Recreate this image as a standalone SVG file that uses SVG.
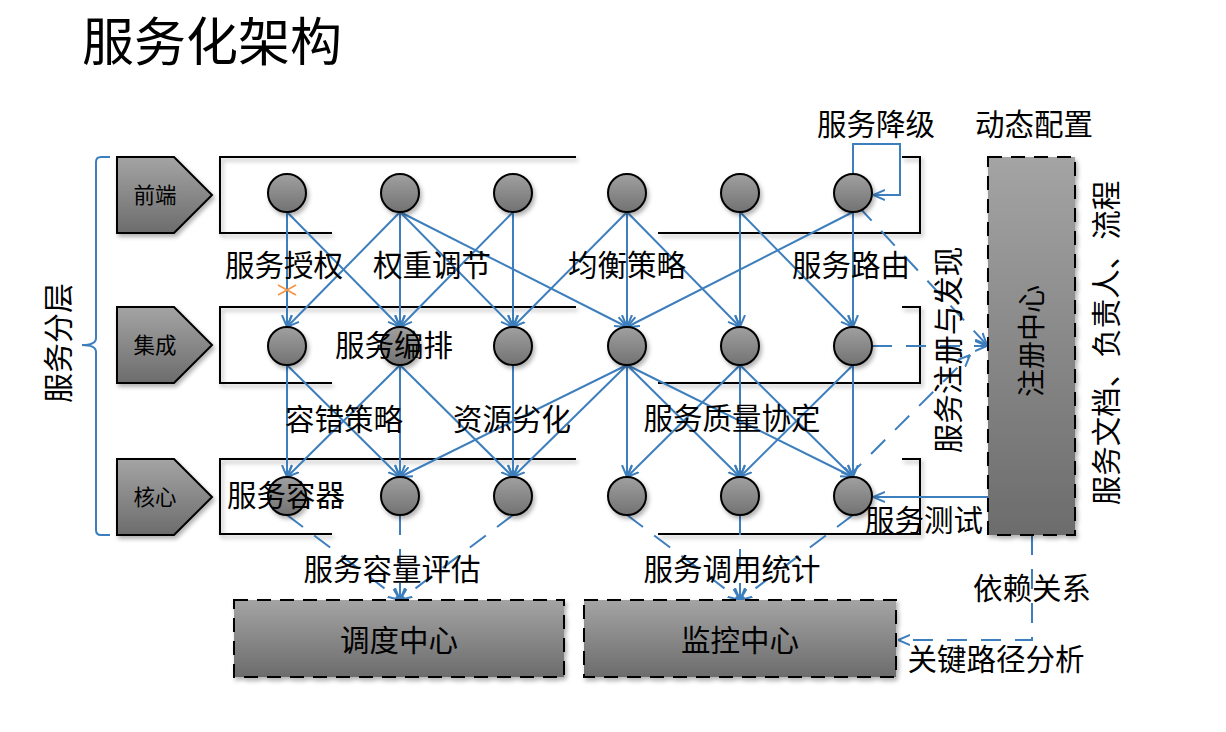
<svg xmlns="http://www.w3.org/2000/svg" width="1226" height="732" viewBox="0 0 1226 732">
<defs>
<linearGradient id="g" x1="0" y1="0" x2="0" y2="1"><stop offset="0" stop-color="#a4a4a4"/><stop offset="1" stop-color="#6c6c6c"/></linearGradient>
<linearGradient id="gc" x1="0" y1="0" x2="0" y2="1"><stop offset="0" stop-color="#a0a0a0"/><stop offset="1" stop-color="#727272"/></linearGradient>
<filter id="sh" x="-20%" y="-20%" width="150%" height="150%"><feDropShadow dx="2" dy="3" stdDeviation="2" flood-color="#000" flood-opacity="0.3"/></filter>
<marker id="ar" viewBox="0 0 12 12" refX="12" refY="6" markerWidth="12" markerHeight="12" markerUnits="userSpaceOnUse" orient="auto"><path d="M0,1 L12,6 L0,11" fill="none" stroke="#3d7ebd" stroke-width="2"/></marker>
<style>
text{font-family:"Noto Sans CJK SC","Noto Sans",sans-serif;fill:#000;text-anchor:middle}
.t28{font-size:29.5px}
.t20{font-size:21.5px}
.fr{fill:none;stroke:#000;stroke-width:2;filter:url(#sh)}
.c{fill:url(#gc);stroke:#000;stroke-width:2;filter:url(#sh)}
.p{fill:url(#g);stroke:#000;stroke-width:2;filter:url(#sh)}
.bx{fill:url(#g);stroke:#000;stroke-width:2;stroke-dasharray:14 9;filter:url(#sh)}
.e{fill:none;stroke:#3d7ebd;stroke-width:2;marker-end:url(#ar)}
.d{fill:none;stroke:#3d7ebd;stroke-width:2;stroke-dasharray:20 14;marker-end:url(#ar)}
</style>
</defs>
<rect width="1226" height="732" fill="#fff"/>

<text x="212" y="61" style="font-size:52px">服务化架构</text>

<g id="bracket">
<path d="M110,157 H101 Q96,157 96,162 V338 Q96,345 82,345 Q96,345 96,352 V530 Q96,535 101,535 H110" fill="none" stroke="#3d7ebd" stroke-width="2"/>
<text class="t28" style="font-size:30px" transform="rotate(-90 58 343)" x="58" y="354.4">服务分层</text>
</g>

<g id="layer-front"><polygon class="p" points="117,157 174,157 212,195 174,233 117,233"/><text class="t20" x="155" y="203.2">前端</text></g>
<g id="layer-integration"><polygon class="p" points="117,307 174,307 212,345 174,383 117,383"/><text class="t20" x="155" y="353.2">集成</text></g>
<g id="layer-core"><polygon class="p" points="117,459 174,459 212,497 174,535 117,535"/><text class="t20" x="155" y="505.2">核心</text></g>

<g id="frames">
<polyline class="fr" points="576,157 220,157 220,233 332,233"/>
<polyline class="fr" points="902,157 920,157 920,233 658,233"/>
<polyline class="fr" points="576,307 220,307 220,383 332,383"/>
<polyline class="fr" points="902,307 920,307 920,383 658,383"/>
<polyline class="fr" points="576,459 220,459 220,534 332,534"/>
<polyline class="fr" points="902,459 920,459 920,534 658,534"/>
</g>

<g id="connectors">
<line class="e" x1="287" y1="212" x2="287" y2="327"/>
<line class="e" x1="287" y1="212" x2="400" y2="327"/>
<line class="e" x1="400" y1="212" x2="287" y2="327"/>
<line class="e" x1="400" y1="212" x2="400" y2="327"/>
<line class="e" x1="400" y1="212" x2="513" y2="327"/>
<line class="e" x1="400" y1="212" x2="627" y2="327"/>
<line class="e" x1="513" y1="212" x2="400" y2="327"/>
<line class="e" x1="513" y1="212" x2="513" y2="327"/>
<line class="e" x1="627" y1="212" x2="513" y2="327"/>
<line class="e" x1="627" y1="212" x2="627" y2="327"/>
<line class="e" x1="627" y1="212" x2="740" y2="327"/>
<line class="e" x1="740" y1="212" x2="740" y2="327"/>
<line class="e" x1="740" y1="212" x2="853" y2="327"/>
<line class="e" x1="853" y1="212" x2="627" y2="327"/>
<line class="e" x1="853" y1="212" x2="853" y2="327"/>
<line class="e" x1="287" y1="365" x2="287" y2="477"/>
<line class="e" x1="287" y1="365" x2="400" y2="477"/>
<line class="e" x1="400" y1="365" x2="287" y2="477"/>
<line class="e" x1="400" y1="365" x2="400" y2="477"/>
<line class="e" x1="400" y1="365" x2="513" y2="477"/>
<line class="e" x1="513" y1="365" x2="513" y2="477"/>
<line class="e" x1="627" y1="365" x2="400" y2="477"/>
<line class="e" x1="627" y1="365" x2="513" y2="477"/>
<line class="e" x1="627" y1="365" x2="627" y2="477"/>
<line class="e" x1="627" y1="365" x2="740" y2="477"/>
<line class="e" x1="627" y1="365" x2="853" y2="477"/>
<line class="e" x1="740" y1="365" x2="627" y2="477"/>
<line class="e" x1="740" y1="365" x2="740" y2="477"/>
<line class="e" x1="740" y1="365" x2="853" y2="477"/>
<line class="e" x1="853" y1="365" x2="740" y2="477"/>
<line class="e" x1="853" y1="365" x2="853" y2="477"/>
<line class="d" x1="287" y1="515" x2="400" y2="600"/>
<line class="d" x1="400" y1="515" x2="400" y2="600"/>
<line class="d" x1="513" y1="515" x2="400" y2="600"/>
<line class="d" x1="627" y1="515" x2="740" y2="600"/>
<line class="d" x1="740" y1="515" x2="740" y2="600"/>
<line class="d" x1="853" y1="515" x2="740" y2="600"/>
<polyline class="e" points="853,174 853,144 900,144 900,195 873,195"/>
<line class="d" x1="858" y1="206" x2="987" y2="345"/>
<line class="d" x1="872" y1="346" x2="987" y2="346"/>
<line class="d" x1="847" y1="478" x2="970" y2="355"/>
<line class="e" x1="988" y1="497" x2="873" y2="497"/>
<polyline class="d" points="1032,535 1032,640 898,640"/>
<path d="M278,285 L296,295 M278,295 L296,285" stroke="#f79646" stroke-width="1.8" fill="none"/>
</g>

<g id="nodes-front">
<circle class="c" cx="287" cy="193" r="19"/><circle class="c" cx="400" cy="193" r="19"/><circle class="c" cx="513" cy="193" r="19"/>
<circle class="c" cx="627" cy="193" r="19"/><circle class="c" cx="740" cy="193" r="19"/><circle class="c" cx="853" cy="193" r="19"/>
</g>
<g id="nodes-integration">
<circle class="c" cx="287" cy="346" r="19"/><circle class="c" cx="400" cy="346" r="19"/><circle class="c" cx="513" cy="346" r="19"/>
<circle class="c" cx="627" cy="346" r="19"/><circle class="c" cx="740" cy="346" r="19"/><circle class="c" cx="853" cy="346" r="19"/>
</g>
<g id="nodes-core">
<circle class="c" cx="287" cy="496" r="19"/><circle class="c" cx="400" cy="496" r="19"/><circle class="c" cx="513" cy="496" r="19"/>
<circle class="c" cx="627" cy="496" r="19"/><circle class="c" cx="740" cy="496" r="19"/><circle class="c" cx="853" cy="496" r="19"/>
</g>

<g id="registry"><rect class="bx" x="988" y="157" width="87" height="378"/><text class="t28" style="font-size:28px" transform="rotate(-90 1031 341)" x="1031" y="351.6">注册中心</text></g>
<g id="scheduler"><rect class="bx" x="234" y="600" width="330" height="77"/><text class="t28" x="399" y="651.2">调度中心</text></g>
<g id="monitor"><rect class="bx" x="584" y="600" width="312" height="77"/><text class="t28" x="740" y="651.2">监控中心</text></g>

<g id="labels">
<text class="t28" x="284" y="276.2">服务授权</text>
<text class="t28" x="432" y="276.2">权重调节</text>
<text class="t28" x="627" y="276.2">均衡策略</text>
<text class="t28" x="851" y="276.2">服务路由</text>
<text class="t28" x="876" y="135.2">服务降级</text>
<text class="t28" x="1034" y="135.2">动态配置</text>
<text class="t28" x="394" y="356.2">服务编排</text>
<text class="t28" x="344" y="430.2">容错策略</text>
<text class="t28" x="512" y="430.2">资源劣化</text>
<text class="t28" x="732" y="429.2">服务质量协定</text>
<text class="t28" x="286" y="506.2">服务容器</text>
<text class="t28" x="392" y="580.2">服务容量评估</text>
<text class="t28" x="732" y="580.2">服务调用统计</text>
<text class="t28" x="924" y="531.2">服务测试</text>
<text class="t28" x="1032" y="599.2">依赖关系</text>
<text class="t28" x="996" y="670.2">关键路径分析</text>
<text class="t28" transform="rotate(-90 948 350)" x="948" y="361.2">服务注册与发现</text>
<text class="t28" transform="rotate(-90 1106 343)" x="1106" y="354.2">服务文档、负责人、流程</text>
</g>
</svg>
